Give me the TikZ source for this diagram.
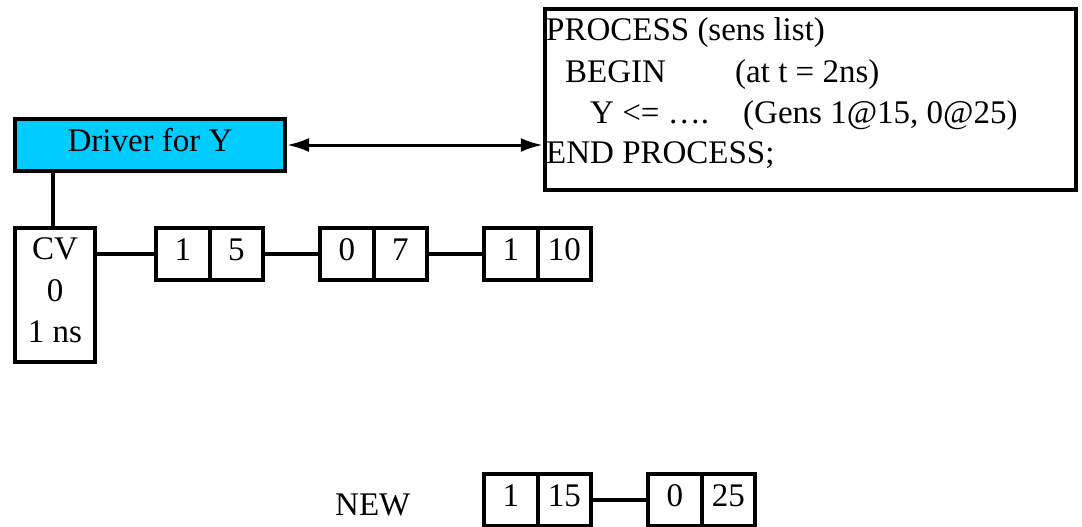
\documentclass[tikz,border=0pt]{standalone}
\usepackage{fontspec}
\setmainfont{Liberation Serif}
\usetikzlibrary{arrows.meta}
\definecolor{drvblue}{RGB}{0,204,255}
\begin{document}
\begin{tikzpicture}[x=1pt,y=-1pt,
  every node/.style={font=\fontsize{33}{40}\selectfont},
  box/.style={draw, line width=4pt, inner sep=0pt},
  cell/.style={box, minimum width=53.5pt, minimum height=52pt, text height=22pt, text depth=10pt},
  wire/.style={line width=3.5pt},
  txt/.style={anchor=base, inner sep=0pt},
  codeline/.style={anchor=base west, inner sep=0pt}]
\useasboundingbox (0,0) rectangle (1082,527);

% driver and its current value
\node[box, fill=drvblue, minimum width=270pt, minimum height=52pt] (drv) at (150,145) {};
\node[txt] (drvlabel) at (150,151) {Driver for Y};
\node[box, minimum width=80pt, minimum height=134pt] (cv) at (55,295) {};
\node[txt] (cv1) at (55,259) {CV};
\node[txt] (cv2) at (55,301) {0};
\node[txt] (cv3) at (55,342) {1 ns};

% process box
\node[draw, line width=4.5pt, minimum width=531pt, minimum height=181pt, inner sep=0pt] (proc) at (810.5,99.5) {};
\node[codeline] (l1) at (546,41) {PROCESS (sens list)};
\node[codeline] (l2a) at (565,82) {BEGIN};
\node[codeline] (l2b) at (735,82) {(at t = 2ns)};
\node[codeline] (l3a) at (590,123) {Y <= ….};
\node[codeline] (l3b) at (743,123) {(Gens 1@15, 0@25)};
\node[codeline] (l4) at (546,163) {END PROCESS;};

% projected waveform
\node[cell] (a1) at (182.75,254) {1};
\node[cell] (a2) at (236.25,254) {5};
\node[cell] (b1) at (346.75,254) {0};
\node[cell] (b2) at (400.25,254) {7};
\node[cell] (c1) at (510.75,254) {1};
\node[cell] (c2) at (564.25,254) {10};

% new transactions
\node[codeline] (new) at (335,515) {NEW};
\node[cell] (d1) at (510.75,500) {1};
\node[cell] (d2) at (564.25,500) {15};
\node[cell] (e1) at (674.75,500) {0};
\node[cell] (e2) at (728.25,500) {25};

% connectors
\draw[wire] ([xshift=-2pt]cv.north) -- ([xshift=-2pt]cv.north |- drv.south);
\draw[wire] (cv.east |- a1.west) -- (a1.west);
\draw[wire] (a2.east) -- (b1.west);
\draw[wire] (b2.east) -- (c1.west);
\draw[wire] (d2.east) -- (e1.west);
\draw[line width=3pt, {Latex[length=22pt,width=14pt]}-{Latex[length=22pt,width=14pt]}] (drv.east) -- (drv.east -| proc.west);
\end{tikzpicture}
\end{document}
